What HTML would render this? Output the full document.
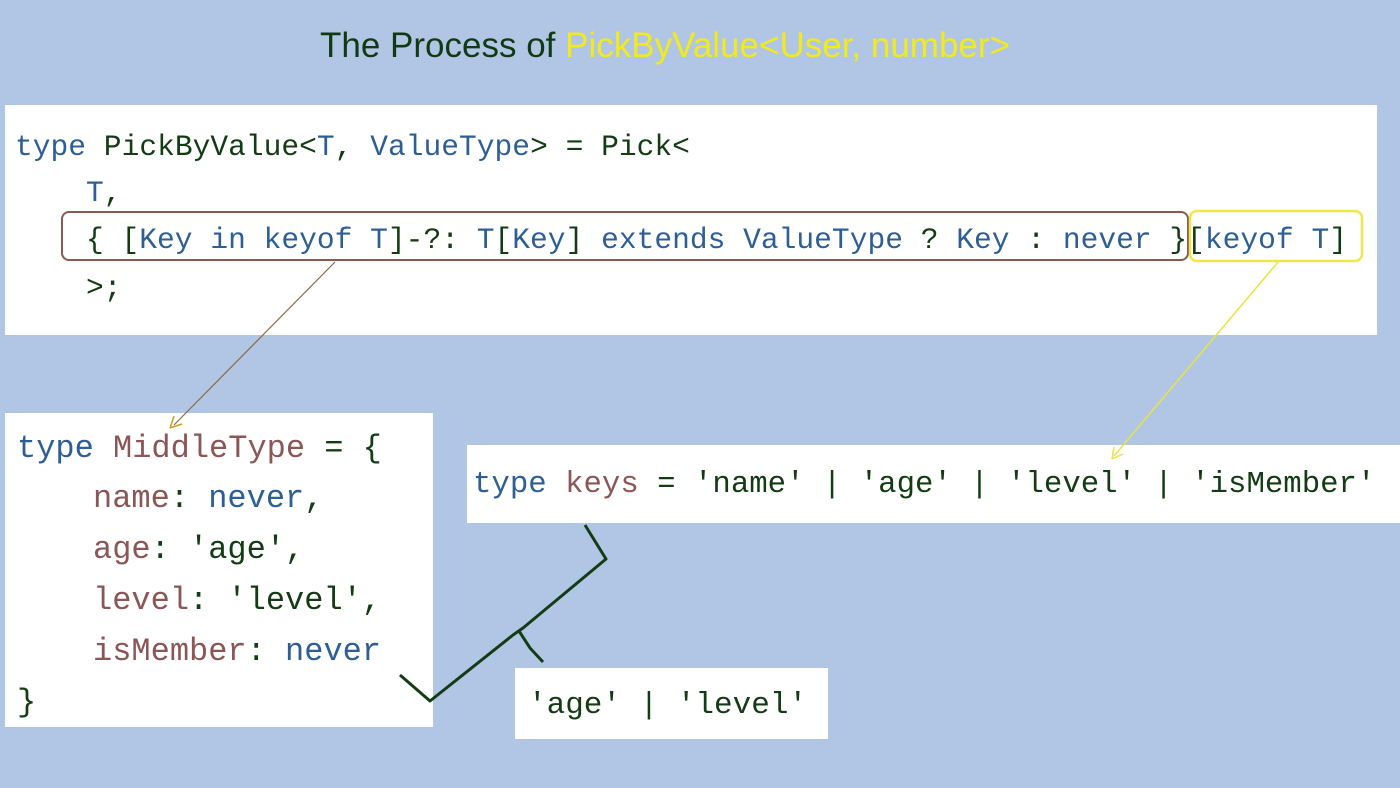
<!DOCTYPE html>
<html><head><meta charset="utf-8"><style>
body{margin:0;width:1400px;height:788px;background:#b0c6e4;position:relative;overflow:hidden;font-family:"Liberation Mono",monospace}
.box{position:absolute;background:#fff}
.l{position:absolute;white-space:pre;line-height:40px;height:40px}
.b{color:#2d5e96}.g{color:#133b14}.m{color:#8a5656}
.t1 .l{font-size:29.6px}
.t2 .l{font-size:32px}
</style></head><body>
<div style="position:absolute;left:0;width:1330px;top:26px;text-align:center;font-family:'Liberation Sans',sans-serif;font-size:35px;color:#123a12;line-height:40px">The Process of <span style="color:#f2ea1c">PickByValue&lt;User, number&gt;</span></div>

<div class="box" style="left:5px;top:105px;width:1372px;height:230px"></div>
<div class="t1">
<div class="l" style="left:15px;top:127px"><span class="b">type</span><span class="g"> PickByValue&lt;</span><span class="b">T</span><span class="g">, </span><span class="b">ValueType</span><span class="g">&gt; = Pick&lt;</span></div>
<div class="l b" style="left:86px;top:173px">T<span class="g">,</span></div>
<div class="l" style="left:86px;top:220px"><span class="g">{ [</span><span class="b">Key in keyof T</span><span class="g">]-?: </span><span class="b">T</span><span class="g">[</span><span class="b">Key</span><span class="g">] </span><span class="b">extends ValueType</span><span class="g"> ? </span><span class="b">Key</span><span class="g"> : </span><span class="b">never</span><span class="g"> }[</span><span class="b">keyof T</span><span class="g">]</span></div>
<div class="l g" style="left:86px;top:268px">&gt;;</div>
</div>

<div class="box" style="left:5px;top:413px;width:428px;height:314px"></div>
<div class="t2">
<div class="l" style="left:17px;top:429px"><span class="b">type</span> <span class="m">MiddleType</span><span class="g"> = {</span></div>
<div class="l" style="left:93px;top:479px"><span class="m">name</span><span class="g">: </span><span class="b">never</span><span class="g">,</span></div>
<div class="l" style="left:93px;top:530px"><span class="m">age</span><span class="g">: 'age',</span></div>
<div class="l" style="left:93px;top:581px"><span class="m">level</span><span class="g">: 'level',</span></div>
<div class="l" style="left:93px;top:632px"><span class="m">isMember</span><span class="g">: </span><span class="b">never</span></div>
<div class="l g" style="left:17px;top:683px">}</div>
</div>

<div class="box" style="left:467px;top:445px;width:933px;height:78px"></div>
<div class="l" style="left:473px;top:465px;font-size:30.7px"><span class="b">type</span> <span class="m">keys</span><span class="g"> = 'name' | 'age' | 'level' | 'isMember'</span></div>

<div class="box" style="left:515px;top:668px;width:313px;height:71px"></div>
<div class="l g" style="left:528px;top:686px;font-size:31px">'age' | 'level'</div>

<svg width="1400" height="788" style="position:absolute;left:0;top:0">
<rect x="62" y="212" width="1126" height="48" rx="7" fill="none" stroke="#8c5a50" stroke-width="2"/>
<rect x="1190" y="211" width="172" height="50" rx="7" fill="none" stroke="#efe64a" stroke-width="2.5"/>
<line x1="335" y1="262" x2="174" y2="425" stroke="#8c6a40" stroke-width="1.2"/>
<path d="M170 428 L174 416 M170 428 L182 424" stroke="#c8a020" stroke-width="1.5" fill="none"/>
<line x1="1278" y1="262" x2="1114" y2="456" stroke="#e8e440" stroke-width="1.5"/>
<path d="M1112 459 L1114 447 M1112 459 L1123 454" stroke="#e8e440" stroke-width="1.5" fill="none"/>
<path d="M400 675 L430 701 L513 635 L523 628 L606 559 L585 525" stroke="#133b14" stroke-width="3" fill="none" stroke-linejoin="round"/>
<path d="M519 631 L530 648 L543 662" stroke="#133b14" stroke-width="3" fill="none"/>
</svg>
</body></html>
